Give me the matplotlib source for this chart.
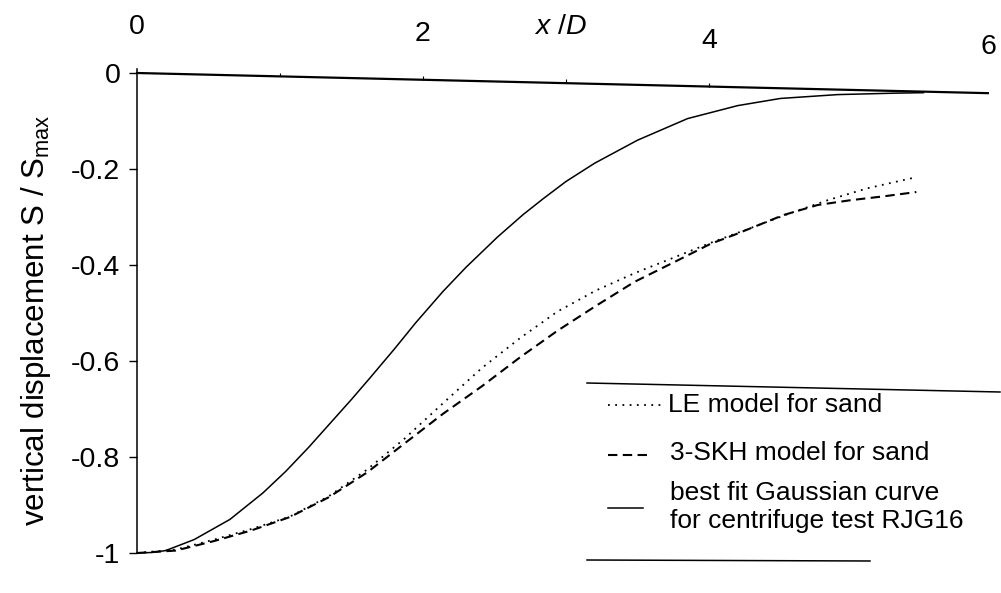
import numpy as np
import matplotlib
matplotlib.use('Agg')
import matplotlib.pyplot as plt
from matplotlib.lines import Line2D

plt.rcParams['font.family'] = ['Liberation Sans', 'DejaVu Sans']
plt.rcParams['mathtext.fontset'] = 'custom'
plt.rcParams['mathtext.rm'] = 'Liberation Sans'
plt.rcParams['mathtext.it'] = 'Liberation Sans:italic'

# values
x_gauss = [0, 0.1, 0.2, 0.4, 0.65, 0.88, 1.04, 1.2, 1.35, 1.5, 1.63, 1.8, 1.95, 2.14,
           2.3, 2.52, 2.7, 2.84, 3.0, 3.2, 3.5, 3.85, 4.2, 4.5, 4.9, 5.3, 5.5]
y_gauss = [-1.0, -0.999, -0.995, -0.972, -0.93, -0.875, -0.83, -0.78, -0.73, -0.68,
           -0.635, -0.575, -0.52, -0.455, -0.405, -0.342, -0.295, -0.262, -0.226,
           -0.188, -0.14, -0.095, -0.068, -0.053, -0.045, -0.042, -0.041]

x_le = [0, 0.27, 0.54, 0.8, 1.07, 1.34, 1.61, 1.87, 2.14, 2.41, 2.68, 2.94, 3.21,
        3.48, 3.75, 4.01, 4.3, 4.55, 4.83, 5.11, 5.45]
y_le = [-1.0, -0.993, -0.972, -0.95, -0.924, -0.882, -0.826, -0.762, -0.688,
        -0.615, -0.552, -0.497, -0.453, -0.417, -0.385, -0.354, -0.322, -0.294,
        -0.265, -0.24, -0.217]

x_skh = [0, 0.27, 0.54, 0.8, 1.07, 1.34, 1.61, 1.87, 2.14, 2.41, 2.68, 2.94, 3.21,
         3.48, 3.75, 4.01, 4.17, 4.52, 4.76, 4.99, 5.22, 5.45]
y_skh = [-1.0, -0.995, -0.975, -0.953, -0.925, -0.884, -0.832, -0.772, -0.71,
         -0.653, -0.592, -0.537, -0.485, -0.435, -0.395, -0.356, -0.338, -0.296,
         -0.275, -0.265, -0.257, -0.248]

# top reference line (x axis as drawn in the original, slightly sloped)
base_x = [0, 5.95]
base_y = [0, -0.042]

xtick_vals = [0, 2, 4, 6]
xtick_minor = [1, 2, 3, 4]
ytick_vals = [-1, -0.8, -0.6, -0.4, -0.2, 0]
ytick_labels = ['-1', '-0.8', '-0.6', '-0.4', '-0.2', '0']

W, H = 1001, 593
fig = plt.figure(figsize=(W / 100, H / 100), dpi=100)
ax = fig.add_axes([137 / W, (H - 553) / H, (995 - 137) / W, (553 - 73) / H])

ax.plot(x_gauss, y_gauss, color='black', lw=1.1, clip_on=False)
ax.plot(x_le, y_le, color='black', lw=1.3, linestyle=(0, (1, 3)), clip_on=False)
ax.plot(x_skh, y_skh, color='black', lw=1.5, linestyle=(0, (4.5, 2.6)), clip_on=False)
ax.plot(base_x, base_y, color='black', lw=1.6, clip_on=False)

# small upward ticks on the top line
tick_base = np.interp(xtick_minor, base_x, base_y)
ax.vlines(xtick_minor, tick_base, tick_base + 0.008, color='black', lw=0.8, clip_on=False)

# top tick labels, following the sloped line (last one nudged in so it fits)
for v in xtick_vals:
    yb = np.interp(v, base_x, base_y)
    dx = -5 if v == 6 else 0
    ax.annotate(str(v), (v, yb), xytext=(dx, 33), textcoords='offset points',
                ha='center', va='center', fontsize=20.5, annotation_clip=False)
ax.annotate('$\\it{x}$ $\\it{/D}$', (2.96, 0), xytext=(0, 33), textcoords='offset points',
            ha='center', va='center', fontsize=20.5, annotation_clip=False)

ax.set_xlim(0, 6)
ax.set_ylim(-1, 0)
for s in ['top', 'right', 'bottom']:
    ax.spines[s].set_visible(False)
ax.spines['left'].set_linewidth(1.1)
ax.spines['left'].set_bounds(-1, 0.008)
ax.set_xticks([])
ax.set_yticks(ytick_vals)
ax.set_yticklabels(ytick_labels, fontsize=20.5)
ax.tick_params(axis='y', direction='out', length=6, width=1, pad=6)

fig.text(36 / W, (H - 320) / H, 'vertical displacement S / S$_{\\mathregular{max}}$',
         rotation=90, ha='center', va='center', fontsize=22.5)

# legend drawn by hand, framed by two lines
def fx(p):
    return p / W

def fy(p):
    return (H - p) / H

fig.add_artist(Line2D([fx(587), fx(1000)], [fy(383), fy(392)], color='black', lw=1.1))
fig.add_artist(Line2D([fx(587), fx(870)], [fy(560), fy(561)], color='black', lw=1.1))
fig.add_artist(Line2D([fx(608), fx(663)], [fy(405), fy(405)], color='black', lw=1.3,
                      linestyle=(0, (1, 3))))
fig.add_artist(Line2D([fx(608), fx(652)], [fy(455), fy(455)], color='black', lw=1.5,
                      linestyle=(0, (4.5, 2.6))))
fig.add_artist(Line2D([fx(608), fx(643)], [fy(508), fy(508)], color='black', lw=1.1))
fig.text(fx(668), fy(405), 'LE model for sand', fontsize=19, va='center', ha='left')
fig.text(fx(670), fy(453), '3-SKH model for sand', fontsize=19, va='center', ha='left')
fig.text(fx(670), fy(507), 'best fit Gaussian curve\nfor centrifuge test RJG16',
         fontsize=19, va='center', ha='left', linespacing=1.2)

fig.savefig('out.png', dpi=100)
